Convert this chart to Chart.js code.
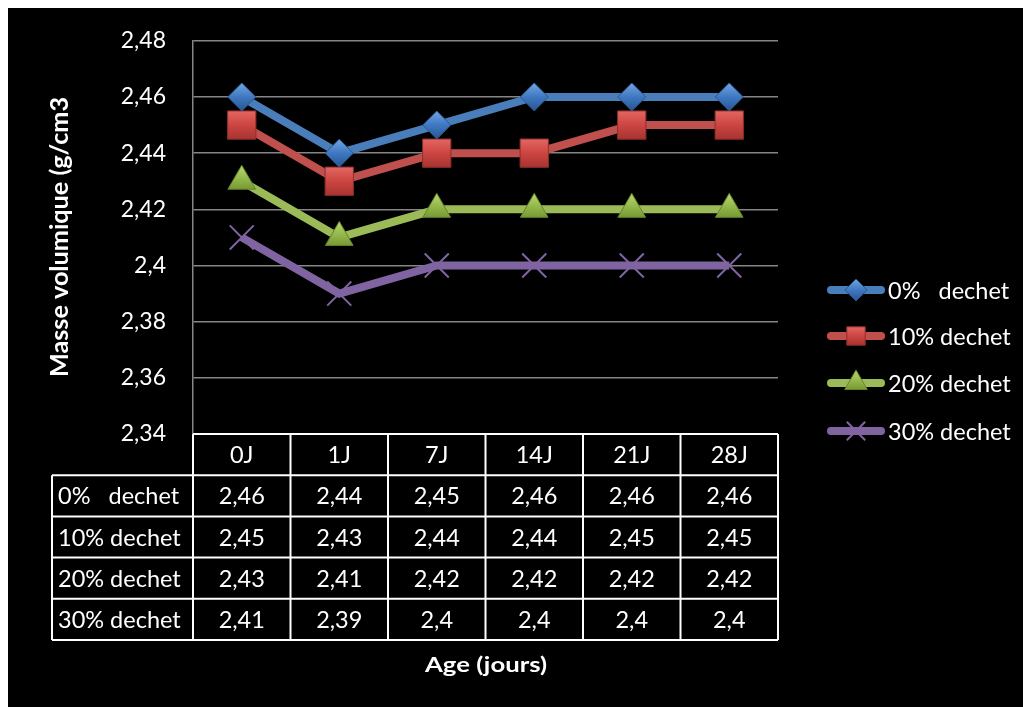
<!DOCTYPE html>
<html><head><meta charset="utf-8">
<script src="https://cdn.jsdelivr.net/npm/chart.js@4/dist/chart.umd.min.js"></script>
<style>html,body{margin:0;padding:0;background:#fff;overflow:hidden}#c{display:block}</style>
</head><body>
<canvas id="c" width="1023" height="707"></canvas>
<script>
const categories = ['0J','1J','7J','14J','21J','28J'];
const seriesNames = ['0%   dechet','10% dechet','20% dechet','30% dechet'];
const dechet0  = [2.46, 2.44, 2.45, 2.46, 2.46, 2.46];
const dechet10 = [2.45, 2.43, 2.44, 2.44, 2.45, 2.45];
const dechet20 = [2.43, 2.41, 2.42, 2.42, 2.42, 2.42];
const dechet30 = [2.41, 2.39, 2.40, 2.40, 2.40, 2.40];
const yTicks = [2.34, 2.36, 2.38, 2.40, 2.42, 2.44, 2.46, 2.48];
const yTitle = 'Masse volumique (g/cm3';
const xTitle = 'Age (jours)';

const FONT = 'Lato, "Open Sans", sans-serif';
const fmt = v => String(parseFloat(Number(v).toFixed(2))).replace('.', ',');

const styles = [
  {line:'#4a7ebb', light:'#72a6e2', fill:'#3f78c2', dark:'#275690', edge:'#2b5890', ps:'rectRot', r:14, lr:11},
  {line:'#c0504d', light:'#ec7470', fill:'#cc4541', dark:'#972d2a', edge:'#8c2f2c', ps:'rect', r:20, lr:13},
  {line:'#9bbb59', light:'#b8d871', fill:'#8cb043', dark:'#62832a', edge:'#66842c', ps:'triangle', r:16, lr:13},
  {line:'#8064a2', light:'#8064a2', fill:'#8064a2', dark:'#8064a2', edge:'#8064a2', ps:'crossRot', r:17, lr:13}
];
const seriesData = [dechet0, dechet10, dechet20, dechet30];

function markerFill(i) {
  const st = styles[i];
  return (c) => {
    const chart = c.chart;
    if (c.type !== 'data' || !chart.scales || !chart.scales.y) return st.fill;
    const y = chart.scales.y.getPixelForValue(c.raw);
    if (!isFinite(y)) return st.fill;
    const r = st.r;
    const g = chart.ctx.createLinearGradient(0, y - r, 0, y + r);
    g.addColorStop(0, st.light);
    g.addColorStop(0.5, st.fill);
    g.addColorStop(1, st.dark);
    return g;
  };
}

const datasets = seriesData.map((d, i) => ({
  label: seriesNames[i],
  data: d,
  borderColor: styles[i].line,
  borderWidth: 8,
  pointStyle: styles[i].ps,
  pointRadius: styles[i].r,
  pointHoverRadius: styles[i].r,
  pointBackgroundColor: i === 3 ? styles[i].fill : markerFill(i),
  pointBorderColor: styles[i].edge,
  pointBorderWidth: i === 3 ? 2 : 1,
  tension: 0,
  fill: false
}));

function drawFitted(ctx, text, x, y, width, rot) {
  ctx.save();
  ctx.translate(x, y);
  if (rot) ctx.rotate(rot);
  const w = ctx.measureText(text).width;
  ctx.scale(width / w, 1);
  ctx.textAlign = 'center';
  ctx.textBaseline = 'middle';
  ctx.fillText(text, 0, 0);
  ctx.restore();
}

const framePlugin = {
  id: 'frame',
  beforeDraw(chart) {
    const ctx = chart.ctx;
    ctx.save();
    ctx.fillStyle = '#ffffff';
    ctx.fillRect(0, 0, chart.width, chart.height);
    ctx.fillStyle = '#000000';
    ctx.fillRect(8, 8, chart.width - 8, chart.height - 8);
    ctx.restore();
  }
};

const tablePlugin = {
  id: 'table',
  afterDraw(chart) {
    const ctx = chart.ctx;
    const xs = chart.scales.x;
    const area = chart.chartArea;
    const n = categories.length;
    const colW = (area.right - area.left) / n;
    const rowH = 41.2;
    const top = area.bottom;
    const labelLeft = 52;
    const nRows = seriesData.length;
    const bottom = top + rowH * (nRows + 1);
    ctx.save();
    ctx.strokeStyle = '#ffffff';
    ctx.lineWidth = 2;
    ctx.beginPath();
    ctx.moveTo(area.left, top); ctx.lineTo(area.right, top);
    for (let r = 1; r <= nRows + 1; r++) {
      const y = top + rowH * r;
      ctx.moveTo(labelLeft, y); ctx.lineTo(area.right, y);
    }
    for (let c = 0; c <= n; c++) {
      const x = area.left + colW * c;
      ctx.moveTo(x, top); ctx.lineTo(x, bottom);
    }
    ctx.moveTo(labelLeft, top + rowH); ctx.lineTo(labelLeft, bottom);
    ctx.stroke();

    ctx.fillStyle = '#ffffff';
    ctx.font = '23.5px ' + FONT;
    ctx.textBaseline = 'middle';
    ctx.textAlign = 'center';
    categories.forEach((c, i) => {
      ctx.fillText(c, xs.getPixelForValue(i), top + rowH / 2 + 1);
    });
    seriesData.forEach((d, r) => {
      const yc = top + rowH * (r + 1.5) + 1;
      ctx.textAlign = 'left';
      ctx.fillText(seriesNames[r], labelLeft + 6, yc);
      ctx.textAlign = 'center';
      d.forEach((v, i) => ctx.fillText(fmt(v), xs.getPixelForValue(i), yc));
    });

    ctx.font = 'bold 21px ' + FONT;
    drawFitted(ctx, xTitle, 486, 665, 122, 0);
    ctx.font = 'bold 24px ' + FONT;
    drawFitted(ctx, yTitle, 60, 237, 280, -Math.PI / 2);
    ctx.restore();

    ctx.save();
    const ly = [290, 336, 383, 431];
    chart.data.datasets.forEach((ds, i) => {
      const y = ly[i];
      const st = styles[i];
      ctx.strokeStyle = ds.borderColor;
      ctx.lineWidth = 8;
      ctx.lineCap = 'round';
      ctx.beginPath();
      ctx.moveTo(831, y); ctx.lineTo(881, y);
      ctx.stroke();
      const g = ctx.createLinearGradient(0, y - st.lr, 0, y + st.lr);
      g.addColorStop(0, st.light); g.addColorStop(0.5, st.fill); g.addColorStop(1, st.dark);
      ctx.fillStyle = g;
      ctx.strokeStyle = ds.pointBorderColor;
      ctx.lineWidth = ds.pointBorderWidth;
      ctx.lineCap = 'butt';
      Chart.helpers.drawPoint(ctx, {pointStyle: ds.pointStyle, radius: st.lr, rotation: 0, borderWidth: ds.pointBorderWidth}, 856, y);
      ctx.fillStyle = '#ffffff';
      ctx.font = '23.5px ' + FONT;
      ctx.textAlign = 'left';
      ctx.textBaseline = 'middle';
      ctx.fillText(ds.label, 888, y + 1);
    });
    ctx.restore();
  }
};

new Chart(document.getElementById('c'), {
  type: 'line',
  data: { labels: categories, datasets: datasets },
  options: {
    responsive: false,
    animation: false,
    devicePixelRatio: 1,
    layout: { padding: { left: 10, top: 37, right: 245, bottom: 273 } },
    plugins: { legend: { display: false }, tooltip: { enabled: false }, title: { display: false } },
    scales: {
      x: { type: 'category', offset: true, display: false },
      y: {
        min: 2.34, max: 2.48,
        afterBuildTicks: s => { s.ticks = yTicks.map(v => ({ value: v })); },
        afterFit: s => { s.width = 183; },
        grid: { color: '#868686', lineWidth: 1.5, drawTicks: false },
        border: { color: '#868686', width: 1.5 },
        ticks: { color: '#ffffff', font: { family: FONT, size: 23 }, padding: 27, callback: v => fmt(v) }
      }
    }
  },
  plugins: [framePlugin, tablePlugin]
});
</script>
</body></html>
